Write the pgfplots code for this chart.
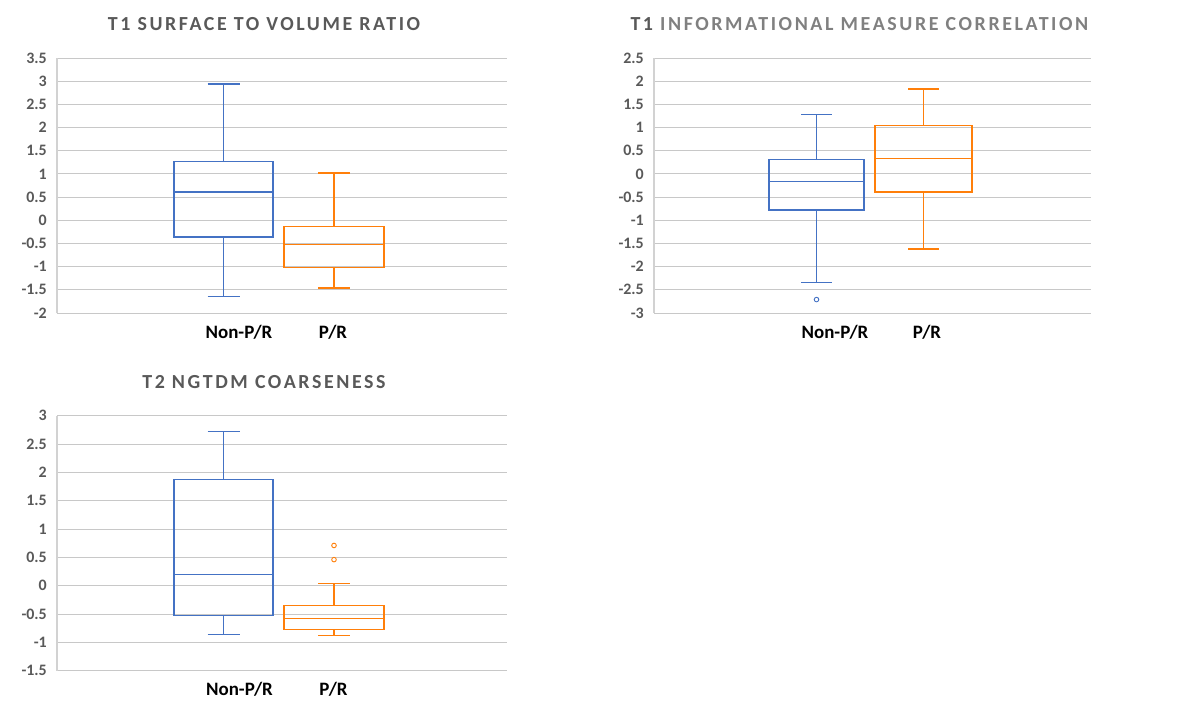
\documentclass[border=0pt]{standalone}
\usepackage{fontspec}
\setmainfont{Carlito}
\usepackage{pgfplots}
\pgfplotsset{compat=1.18}
\usepgfplotslibrary{statistics}
\definecolor{bxblue}{RGB}{68,114,196}
\definecolor{bxorange}{RGB}{255,127,10}
\definecolor{gridc}{RGB}{200,200,200}
\definecolor{axc}{RGB}{210,210,210}
\definecolor{tdark}{RGB}{89,89,89}
\definecolor{tlight}{RGB}{128,128,128}
\newcommand{\ttl}{\fontsize{20}{20}\selectfont\bfseries\addfontfeature{LetterSpace=13}}
\pgfplotsset{
  boxstyle/.style={
    scale only axis,
    height=255bp,
    boxplot/draw direction=y,
    axis y line=left, axis x line=bottom,
    axis line style={-},
    x axis line style={draw=none},
    y axis line style={draw=axc, line width=2bp},
    ymajorgrids, grid style={gridc, line width=1bp},
    major tick length=0pt,
    ytick distance=0.5,
    /pgf/number format/assume math mode=true,
    yticklabel style={font=\bfseries\fontsize{16}{16}\selectfont, text=tdark, inner sep=0pt, xshift=-10bp},
    xticklabel style={font=\bfseries\fontsize{19}{19}\selectfont, text=black, anchor=base, yshift=-25bp},
    title style={anchor=base, at={(axis description cs:0.46,1)}, yshift=21.6bp, inner sep=0pt},
    clip=false,
  },
  bluebox/.style={draw=bxblue, line width=1.2bp, mark=o, mark size=2.3bp, mark options={draw=bxblue, line width=0.9bp, solid}},
  orangebox/.style={draw=bxorange, line width=1.2bp, mark=o, mark size=2.3bp, mark options={draw=bxorange, line width=0.9bp, solid}},
}
\begin{document}
\begin{tikzpicture}
\path[use as bounding box] (0,0) rectangle (1178bp,-714bp);
% Chart 1
\begin{axis}[boxstyle, at={(57bp,-313bp)}, anchor=south west, width=450bp,
  xmin=0, xmax=4.5, ymin=-2, ymax=3.5,
  xtick={1.82,2.76}, xticklabels={Non-P/R,P/R},
  title={\ttl\color{tdark}T1 SURFACE TO VOLUME RATIO}]
\addplot[bluebox, boxplot prepared={draw position=1.665, lower whisker=-1.65, lower quartile=-0.36, median=0.61, upper quartile=1.27, upper whisker=2.94, box extend=0.99, whisker extend=0.32}] coordinates {};
\addplot[orangebox, boxplot prepared={draw position=2.77, lower whisker=-1.46, lower quartile=-1.02, median=-0.53, upper quartile=-0.13, upper whisker=1.02, box extend=1.0, whisker extend=0.32}] coordinates {};
\end{axis}
% Chart 2
\begin{axis}[boxstyle, at={(654bp,-313bp)}, anchor=south west, width=437bp,
  xmin=0, xmax=4.37, ymin=-3, ymax=2.5,
  xtick={1.81,2.73}, xticklabels={Non-P/R,P/R},
  title style={at={(axis description cs:0.47,1)}},
  title={\ttl{\color{tdark}T1} {\color{tlight}INFORMATIONAL MEASURE CORRELATION}}]
\addplot[bluebox, boxplot prepared={draw position=1.625, lower whisker=-2.35, lower quartile=-0.78, median=-0.17, upper quartile=0.31, upper whisker=1.29, box extend=0.95, whisker extend=0.31}] coordinates {(0,-2.71)};
\addplot[orangebox, boxplot prepared={draw position=2.695, lower whisker=-1.62, lower quartile=-0.39, median=0.34, upper quartile=1.05, upper whisker=1.83, box extend=0.97, whisker extend=0.31}] coordinates {};
\end{axis}
% Chart 3
\begin{axis}[boxstyle, at={(57bp,-670.7bp)}, anchor=south west, width=450bp,
  xmin=0, xmax=4.5, ymin=-1.5, ymax=3,
  xtick={1.825,2.765}, xticklabels={Non-P/R,P/R},
  title={\ttl\color{tdark}T2 NGTDM COARSENESS}]
\addplot[bluebox, boxplot prepared={draw position=1.665, lower whisker=-0.86, lower quartile=-0.52, median=0.20, upper quartile=1.88, upper whisker=2.72, box extend=0.99, whisker extend=0.32}] coordinates {};
\addplot[orangebox, boxplot prepared={draw position=2.77, lower whisker=-0.88, lower quartile=-0.77, median=-0.58, upper quartile=-0.35, upper whisker=0.04, box extend=1.0, whisker extend=0.32}] coordinates {(0,0.46) (0,0.71)};
\end{axis}
\end{tikzpicture}
\end{document}
